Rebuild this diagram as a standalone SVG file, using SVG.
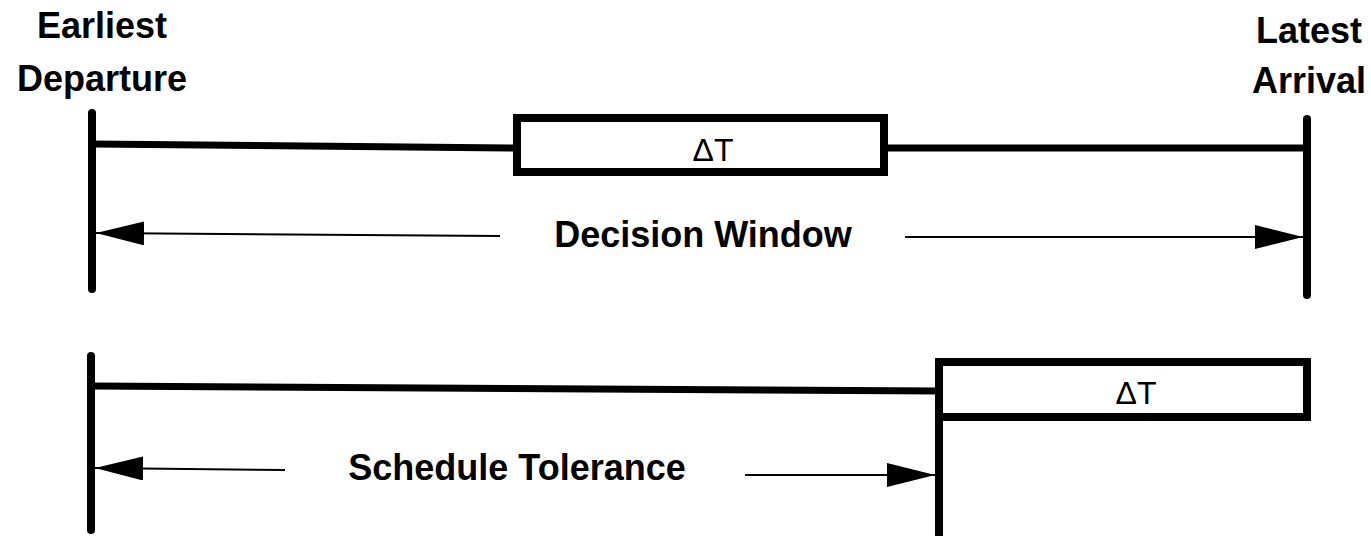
<svg xmlns="http://www.w3.org/2000/svg" width="1371" height="536" viewBox="0 0 1371 536">
<style>
.lbl{font-family:"Liberation Sans",Arial,sans-serif;font-weight:bold;font-size:36px;fill:#000;text-anchor:middle}
.dt{font-family:"Liberation Sans",Arial,sans-serif;font-size:32px;fill:#000;text-anchor:middle}
.thick{stroke:#000;stroke-width:7;fill:none;stroke-linecap:round}
.bar{stroke:#000;stroke-width:8;fill:none;stroke-linecap:round}
.box{stroke:#000;stroke-width:8;fill:#fff}
.thin{stroke:#000;stroke-width:2;fill:none}
</style>
<defs>
<marker id="ah" viewBox="0 0 48 24" refX="48" refY="12" markerWidth="48" markerHeight="24" markerUnits="userSpaceOnUse" orient="auto">
<path d="M0,0 L48,12 L0,24 Z" fill="#000"/>
</marker>
</defs>
<rect width="1371" height="536" fill="#fff"/>
<g id="earliest-label">
<text class="lbl" x="102" y="38">Earliest</text>
<text class="lbl" x="102" y="91">Departure</text>
</g>
<g id="latest-label">
<text class="lbl" x="1309" y="43">Latest</text>
<text class="lbl" x="1309" y="93">Arrival</text>
</g>
<g id="decision-timeline">
<line class="bar" x1="92" y1="113" x2="92" y2="289"/>
<line class="bar" x1="1307" y1="119" x2="1307" y2="295"/>
<line class="thick" x1="92" y1="144" x2="517" y2="148"/>
<line class="thick" x1="884" y1="148" x2="1307" y2="148"/>
</g>
<g id="dt-box-top">
<rect class="box" x="517" y="118" width="367" height="54"/>
<text class="dt" x="713" y="161">ΔT</text>
</g>
<g id="decision-window-label">
<text class="lbl" x="703" y="247">Decision Window</text>
</g>
<g id="schedule-timeline">
<line class="bar" x1="91" y1="356" x2="91" y2="530"/>
<line class="thick" x1="91" y1="386" x2="939" y2="391"/>
<line class="bar" x1="939" y1="362" x2="939" y2="540"/>
</g>
<g id="dt-box-bottom">
<rect class="box" x="939" y="362" width="368" height="55"/>
<text class="dt" x="1136" y="404">ΔT</text>
</g>
<g id="schedule-tolerance-label">
<text class="lbl" x="517" y="480">Schedule Tolerance</text>
</g>
<g id="connectors">
<line class="thin" x1="500" y1="236" x2="96" y2="233" marker-end="url(#ah)"/>
<line class="thin" x1="905" y1="237" x2="1303" y2="237" marker-end="url(#ah)"/>
<line class="thin" x1="285" y1="470" x2="95" y2="468" marker-end="url(#ah)"/>
<line class="thin" x1="745" y1="475" x2="935" y2="475" marker-end="url(#ah)"/>
</g>
</svg>
